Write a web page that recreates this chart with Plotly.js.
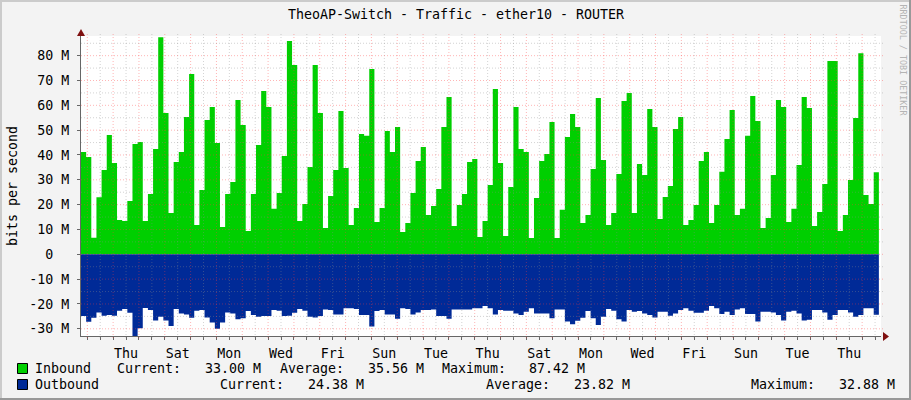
<!DOCTYPE html>
<html><head><meta charset="utf-8">
<script src="https://cdn.plot.ly/plotly-3.0.1.min.js"></script>
<style>html,body{margin:0;padding:0;background:#f3f3f3;overflow:hidden}#c{width:911px;height:400px}</style>
</head><body><div id="c"></div>
<script>
// Values in Mbit/s, one per 0.1993 day
const inbound = [41.2,39.2,6.7,23,34,48,36.8,13.8,13.4,21.5,44.4,45.2,13.4,24.3,42.4,87.42,56.9,16.6,37.2,41.2,55.3,72.6,11.8,25.9,54.1,59.3,44.8,11,24.3,29.1,62.1,52.1,9.4,24.3,44,65.8,59.3,18.3,24.7,39.6,85.9,76.2,13.4,
20.3,35.2,76.2,56.9,10.6,23.5,34,57.7,34.8,11.8,18.7,48.5,47.7,74.6,13,18.7,49.7,41.2,51.3,9,12.6,24.7,37.6,43.2,15.8,19.5,26.3,51.3,63.4,11.4,19.9,24.3,37.2,38.4,7,13.4,27.9,66.6,36.8,7.4,27.1,59.3,42.4,41.2,6.6,22.7,37.6,40.4,53.3,6.6,17.9,47.2,56.5,51.3,12.6,15.8,34.4,63,
38,11.8,16.6,32.3,61.7,65,16.6,36.4,31.9,58.5,51.3,14.2,23.1,27.5,50.5,55.3,11.8,13.8,19.9,37.6,41.2,12.6,19.9,33.2,46.4,58.1,15.8,18.3,47.7,63.8,53.7,10.6,14.6,31.9,62.1,59.3,13,18.3,36,63.4,58.9,11.4,17,28.3,77.9,77.9,9.4,15.8,29.9,54.9,81,23.9,20.3,33];
const outbound = [24.8,27.2,25.5,23.4,24.7,24.4,24.7,22.7,22,23.5,32.88,29.8,21.6,22.4,26.7,25.1,26.7,28.9,22,23.8,24.2,25.5,22.7,22.4,25.4,27.5,30,27.5,23.4,23.8,26.2,25.8,22.8,24.4,25.1,24.8,24.8,22.4,22.7,24.8,24.7,23.5,22,
22.7,25.1,25.4,24.8,22.2,22.4,24.2,24.2,21.7,21.7,22,24.4,24.4,29.1,22.8,22.4,24.2,24.2,26,21.7,22,24.2,23.4,22.4,22.4,22.2,24.8,24.8,26,22.2,22.2,22.2,22.2,21.7,21.7,20.8,21.7,24.2,22.4,22.7,22.7,23.8,24.4,23.1,21.7,23.8,23.8,23.8,25.8,22.2,22.2,27.1,28.2,26.8,25.5,22.8,25.8,28.5,
25.1,22,22.7,26.2,27.1,22.4,23.1,22.8,23.8,24.4,25.4,23.1,23.1,24.7,23.8,22.4,21.7,22.7,23.5,23.5,22.7,20.8,21.7,24,23.1,24.4,22.2,21.7,24,24,27.1,23.1,23.1,23.4,24.4,26.7,23.1,22.7,23.8,26.7,26.4,22.4,22.4,23.4,26.4,24.4,22.4,22.4,23.4,25.1,24.4,21.7,21.7,24.38];
const dayLabels = ['Thu','Sat','Mon','Wed','Fri','Sun','Tue','Thu','Sat','Mon','Wed','Fri','Sun','Tue','Thu'];
const yMajor = [-30,-20,-10,0,10,20,30,40,50,60,70,80];
const yLabels = ['-30 M','-20 M','-10 M','0\u00a0\u00a0','10 M','20 M','30 M','40 M','50 M','60 M','70 M','80 M'];
const legendRows = [
 {y:368,items:[[34,'Inbound'],[116,'Current:'],[204,'33.00 M'],[279,'Average:'],[367,'35.56 M'],[441,'Maximum:'],[528,'87.42 M']]},
 {y:384,items:[[34,'Outbound'],[219,'Current:'],[307,'24.38 M'],[485,'Average:'],[573,'23.82 M'],[750,'Maximum:'],[838,'32.88 M']]}
];
const MONO = '"DejaVu Sans Mono", monospace', FS = 13.3;
const GREEN='#00CF00', BLUE='#002A97';

const W=911,H=400,L=81,R=881,T=36,B=336;
const px=x=>(x-L)/(R-L), py=y=>1-(y-T)/(B-T);
const xMin=-0.244, xMax=30.73, step=0.1993;
const xs=[]; for(let i=0;i<=inbound.length;i++) xs.push(xMin+i*step);
const close=a=>a.concat([a[a.length-1]]);

const halves=[]; const text=[];
for(let k=0;k<=61;k++){const v=k/2;halves.push(v);
  const odd=(k-3)/4; text.push(Number.isInteger(odd)&&odd>=0&&odd<dayLabels.length?dayLabels[odd]:'');}

const shapes=[];
const rect=(x0,y0,x1,y1,c,extra)=>Object.assign({type:'rect',xref:'paper',yref:'paper',x0:px(x0),x1:px(x1),y0:py(y0),y1:py(y1),fillcolor:c,line:{width:0},layer:'above'},extra||{});
// dotted grid over the areas
const RED='rgba(255,60,60,0.38)',GREY='rgba(140,140,140,0.38)',DASH='1px,2px';
for(const v of halves){const maj=Number.isInteger(v);
  shapes.push({type:'line',xref:'x',yref:'paper',x0:v,x1:v,y0:py(B+2),y1:py(T-2),line:{color:maj?RED:GREY,width:1,dash:DASH},layer:'above'});}
for(let v=-30;v<=85;v+=5){const maj=v%10===0;
  shapes.push({type:'line',xref:'paper',yref:'y',x0:0,x1:px(883),y0:v,y1:v,line:{color:maj?RED:GREY,width:1,dash:DASH},layer:'above'});}
// arrows
shapes.push({type:'path',xref:'paper',yref:'paper',path:`M${px(77)},${py(36)} L${px(85)},${py(36)} L${px(81)},${py(29)} Z`,fillcolor:'#7F1010',line:{width:0},layer:'above'});
shapes.push({type:'path',xref:'paper',yref:'paper',path:`M${px(883)},${py(332)} L${px(883)},${py(341)} L${px(889)},${py(336.5)} Z`,fillcolor:'#7F1010',line:{width:0},layer:'above'});
// legend swatches
[[363,GREEN],[379,BLUE]].forEach(([y,c])=>shapes.push({type:'rect',xref:'paper',yref:'paper',x0:px(17.5),x1:px(27.5),y0:py(y+.5),y1:py(y+10.5),fillcolor:c,line:{color:'#000',width:1},layer:'above'}));
// frame
shapes.push(rect(0,0,2,400,'#CBCBCB'));shapes.push(rect(0,0,911,2,'#CBCBCB'));
shapes.push(rect(909,0,911,400,'#999999'));shapes.push(rect(0,398,911,400,'#999999'));

const ann=[];
const note=(x,y,t,o)=>ann.push(Object.assign({xref:'paper',yref:'paper',x:px(x),y:py(y),text:t,showarrow:false,xanchor:'left',yanchor:'middle',borderpad:0,font:{family:MONO,size:FS,color:'#000'}},o||{}));
legendRows.forEach(r=>r.items.forEach(([x,t])=>note(x,r.y,t)));
note(12,186,'bits per second',{textangle:-90,xanchor:'center'});
note(902.5,60,'RRDTOOL / TOBI OETIKER',{textangle:90,xanchor:'center',font:{family:MONO,size:8.4,color:'#b4b4b4'}});

const area=(name,ys,c)=>({type:'scatter',mode:'lines',name,x:xs,y:close(ys),line:{shape:'hv',width:0,color:c},fill:'tozeroy',fillcolor:c,hoverinfo:'skip'});
Plotly.newPlot('c',[area('Inbound',inbound,GREEN),area('Outbound',outbound.map(v=>-v),BLUE)],{
  width:W,height:H,showlegend:false,
  paper_bgcolor:'#f3f3f3',plot_bgcolor:'#ffffff',
  margin:{l:L,r:W-R,t:T,b:H-B,pad:0},
  font:{family:MONO,size:FS,color:'#000'},
  title:{text:'TheoAP-Switch - Traffic - ether10 - ROUTER',x:456/911,xanchor:'center',y:1-14/400,yanchor:'middle',font:{family:MONO,size:FS,color:'#000'}},
  xaxis:{range:[xMin,xMax],tickmode:'array',tickvals:halves,ticktext:text,tickangle:0,ticks:'outside',ticklen:3,tickcolor:'#666',showgrid:false,zeroline:false,showline:true,linecolor:'#666',linewidth:1,ticklabelstandoff:2,tickfont:{family:MONO,size:FS}},
  yaxis:{range:[-32.9,87.92],tickmode:'array',tickvals:yMajor,ticktext:yLabels,ticks:'outside',ticklen:3,tickcolor:'#666',showgrid:false,zeroline:false,showline:true,linecolor:'#666',linewidth:1,ticklabelstandoff:5,tickfont:{family:MONO,size:FS}},
  shapes,annotations:ann
},{displayModeBar:false,staticPlot:true});
</script></body></html>
